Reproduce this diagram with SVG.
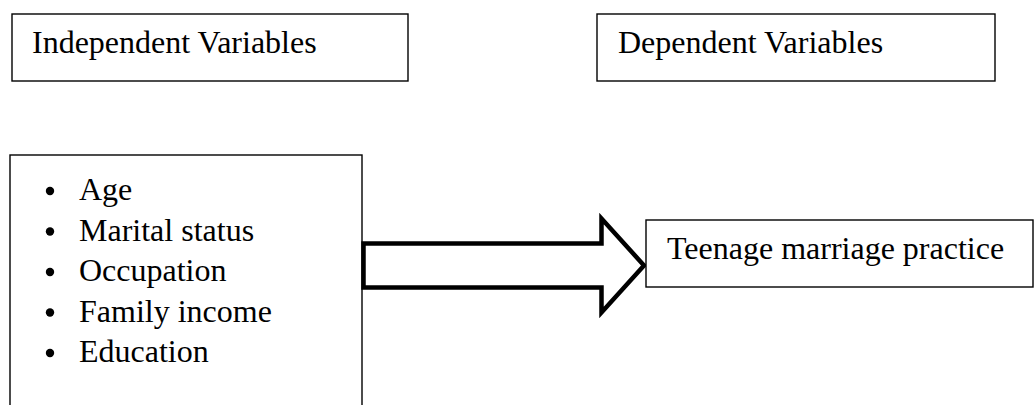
<svg xmlns="http://www.w3.org/2000/svg" width="1034" height="405" viewBox="0 0 1034 405">
<style>
.box{fill:#fff;stroke:#000;stroke-width:1.4}
.t{font-family:"Liberation Serif","Times New Roman",serif;font-size:32px;fill:#000}
.arrow{fill:#fff;stroke:#000;stroke-width:4.5;stroke-linejoin:miter}
</style>
<rect width="1034" height="405" fill="#fff"/>
<g id="independent-label">
<rect class="box" x="12" y="14" width="396" height="67"/>
<text class="t" x="32" y="53">Independent Variables</text>
</g>
<g id="dependent-label">
<rect class="box" x="597" y="14" width="398" height="67"/>
<text class="t" x="618" y="53">Dependent Variables</text>
</g>
<g id="independent-list">
<rect class="box" x="10" y="155" width="352" height="270"/>
<circle cx="50" cy="191" r="4.2"/>
<circle cx="50" cy="231.5" r="4.2"/>
<circle cx="50" cy="272" r="4.2"/>
<circle cx="50" cy="312.5" r="4.2"/>
<circle cx="50" cy="353" r="4.2"/>
<text class="t" x="79" y="200">Age</text>
<text class="t" x="79" y="240.5">Marital status</text>
<text class="t" x="79" y="281">Occupation</text>
<text class="t" x="79" y="321.5">Family income</text>
<text class="t" x="79" y="362">Education</text>
</g>
<g id="connectors">
<path class="arrow" d="M363.5,243.5 H601.5 V218.5 L644,265.5 L601.5,312.5 V287.5 H363.5 Z"/>
</g>
<g id="dependent-outcome">
<rect class="box" x="646" y="220" width="387" height="67"/>
<text class="t" x="667" y="259">Teenage marriage practice</text>
</g>
</svg>
